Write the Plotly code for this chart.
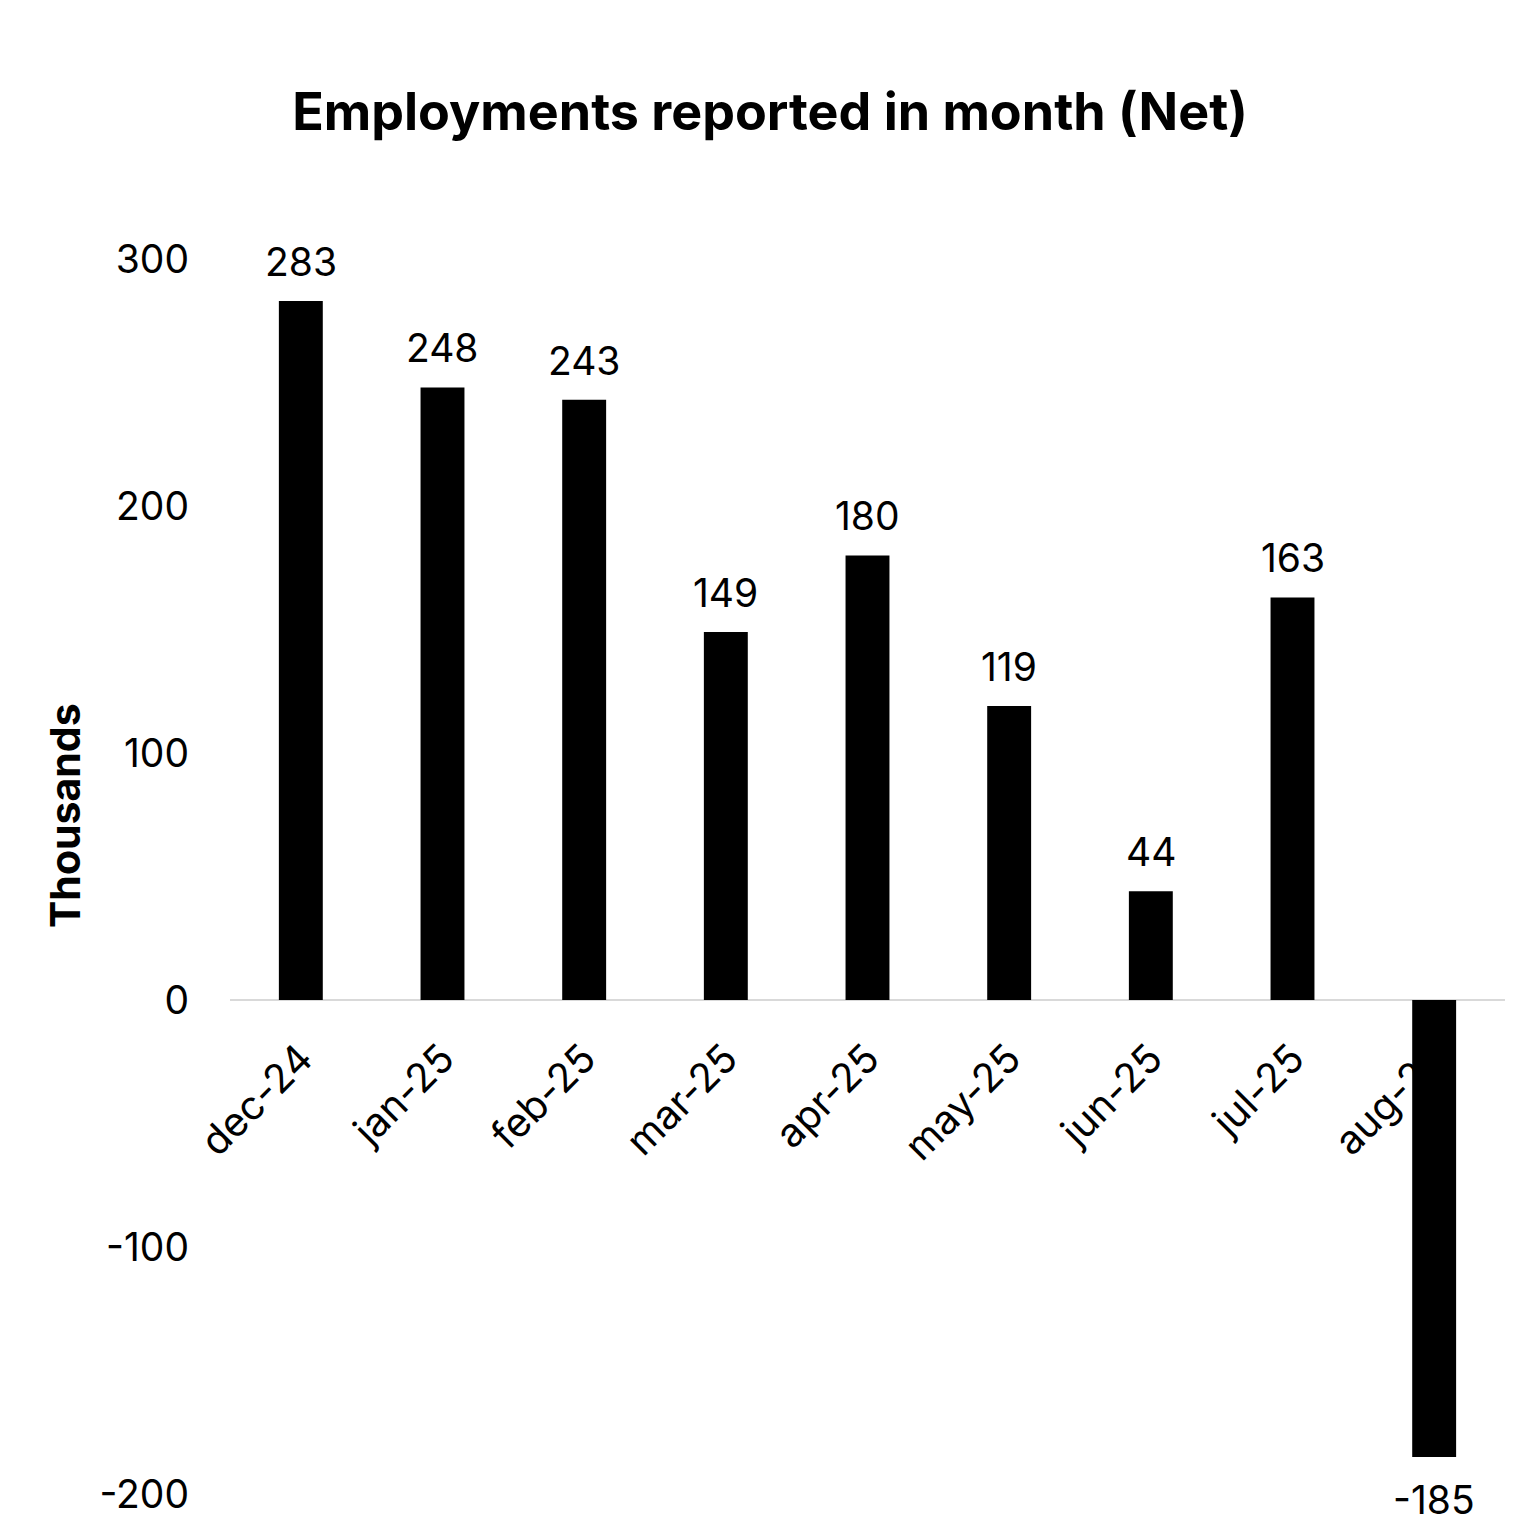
import plotly.graph_objects as go

months = ["dec-24", "jan-25", "feb-25", "mar-25", "apr-25", "may-25", "jun-25", "jul-25", "aug-25"]
values = [283, 248, 243, 149, 180, 119, 44, 163, -185]
y_ticks = [-200, -100, 0, 100, 200, 300]

FONT = "Inter, Liberation Sans, Arial, sans-serif"

fig = go.Figure()
fig.add_trace(go.Bar(
    x=months, y=values,
    marker=dict(color="#000000", line=dict(width=0)),
    cliponaxis=False,
    hoverinfo="x+y",
))

annotations = []
for m, v in zip(months, values):
    annotations.append(dict(
        x=m, y=v, xref="x", yref="y",
        text=str(v), showarrow=False,
        font=dict(family=FONT, size=39, color="#000000"),
        yanchor="bottom" if v >= 0 else "top",
        yshift=14 if v >= 0 else -17,
    ))
annotations.append(dict(
    x=-0.1294, y=0.549, xref="paper", yref="paper",
    text="<b>Thousands</b>", showarrow=False, textangle=-90,
    font=dict(family=FONT, size=41, color="#000000"),
    xanchor="center", yanchor="middle",
))

fig.update_layout(
    width=1536, height=1536,
    margin=dict(l=222, r=39, t=251, b=50),
    paper_bgcolor="white", plot_bgcolor="white",
    showlegend=False,
    bargap=0.69,
    title=dict(
        text="<b>Employments reported in month (Net)</b>",
        x=762 / 1536, xref="container", xanchor="center",
        y=1 - 104 / 1536, yref="container", yanchor="middle",
        font=dict(family=FONT, size=52, color="#000000"),
    ),
    annotations=annotations,
    font=dict(family=FONT, color="#000000"),
)

fig.update_xaxes(
    type="category",
    anchor="free", position=0.4,
    showline=True, linecolor="#d9d9d9", linewidth=2,
    showgrid=False, zeroline=False,
    ticks="", tickangle=-45,
    tickfont=dict(family=FONT, size=40, color="#000000"),
    ticklabelstandoff=18,
    layer="below traces",
)
fig.update_yaxes(
    range=[-200, 300],
    tickmode="array", tickvals=y_ticks, ticktext=[str(t) for t in y_ticks],
    showline=False, showgrid=False, zeroline=False,
    ticks="", ticklabelstandoff=40,
    tickfont=dict(family=FONT, size=39, color="#000000"),
)

fig.write_html("out.html")
